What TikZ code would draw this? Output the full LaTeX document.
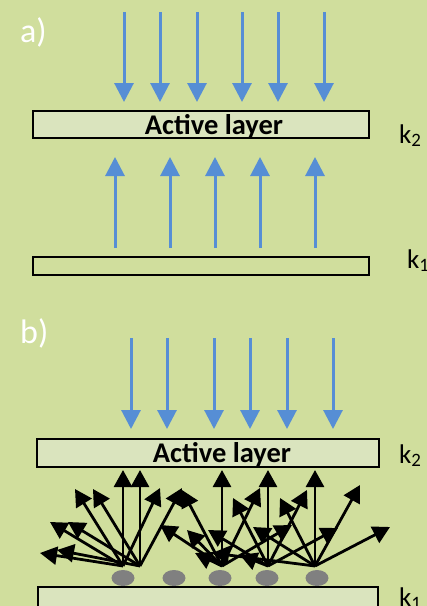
\documentclass[tikz,border=0pt]{standalone}
\usepackage{fontspec}
\setmainfont{Carlito}
\usetikzlibrary{arrows.meta}
\definecolor{bg}{RGB}{208,222,157}
\definecolor{layerfill}{RGB}{218,228,190}
\definecolor{beam}{RGB}{86,142,213}
\definecolor{grain}{RGB}{128,128,128}
\begin{document}
\begin{tikzpicture}[x=1pt,y=-1pt,
  layer/.style={draw=black,line width=2pt,inner sep=0pt},
  beamarrow/.style={draw=beam,line width=3pt,-{Triangle[width=19pt,length=19pt]}},
  ray/.style={draw=black,line width=2.8pt,-{Triangle[width=18pt,length=17pt]}},
  panel/.style={text=white,font=\fontsize{34}{34}\selectfont,anchor=base west,inner sep=0pt},
  klabel/.style={font=\fontsize{27}{27}\selectfont,anchor=base west,inner sep=0pt},
  title/.style={font=\bfseries\fontsize{28.5}{28.5}\selectfont,anchor=base,inner sep=0pt}]
\useasboundingbox (0,0) rectangle (427,606);
\clip (0,0) rectangle (427,606);
\fill[bg] (0,0) rectangle (427,606);

% ---------- a) ----------
\node[panel] (la) at (20,42) {a)};
\node[layer,fill=layerfill,minimum width=336pt,minimum height=27pt] (act1) at (201,124.5) {};
\node[title] (t1) at (214,134) {Active layer};
\node[layer,fill=bg,minimum width=336pt,minimum height=18pt] (sub1) at (201,266) {};
\node[klabel] (k2a) at (399,143) {k\textsubscript{2}};
\node[klabel] (k1a) at (407,268) {k\textsubscript{1}};

\foreach \x [count=\i] in {124,160,197,242,278,324}{
  \coordinate (ia\i) at (\x,12);
  \coordinate (ja\i) at (\x,102);
  \draw[beamarrow] (ia\i) -- (ja\i);
}
\foreach \x [count=\i] in {115,170,215,260,315}{
  \coordinate (ua\i) at (\x,248);
  \coordinate (va\i) at (\x,157);
  \draw[beamarrow] (ua\i) -- (va\i);
}

% ---------- b) ----------
\node[panel] (lb) at (20,343) {b)};
\node[layer,fill=layerfill,minimum width=342pt,minimum height=28pt] (act2) at (208,453) {};
\node[title] (t2) at (222,462) {Active layer};
\node[layer,fill=layerfill,minimum width=340pt,minimum height=26pt] (sub2) at (208,600) {};
\node[klabel] (k2b) at (399,463) {k\textsubscript{2}};
\node[klabel] (k1b) at (399,606) {k\textsubscript{1}};

\foreach \x [count=\i] in {131,167,214,250,287,333}{
  \coordinate (ib\i) at (\x,338);
  \coordinate (jb\i) at (\x,429);
  \draw[beamarrow] (ib\i) -- (jb\i);
}

% scattering particles
\foreach \x [count=\i] in {123,174,220,267,317}{
  \fill[grain] (\x,578) ellipse [x radius=11.5pt,y radius=8pt];
}

% scattered rays, one fan per particle
\coordinate (s1) at (123,566);
\coordinate (s2) at (140,566);
\coordinate (s3) at (222,566);
\coordinate (s4) at (268,566);
\coordinate (s5) at (315,566);
\foreach \x/\y [count=\i] in {123/470,75/489,50/522,40/553,160/488}{
  \coordinate (r1-\i) at (\x,\y);
  \draw[ray] (s1) -- (r1-\i);
}
\foreach \x/\y [count=\i] in {140/470,93/489,68/522,57/550,182/488}{
  \coordinate (r2-\i) at (\x,\y);
  \draw[ray] (s2) -- (r2-\i);
}
\foreach \x/\y [count=\i] in {222/470,182/490,160/525,187/530,195/553,260/488,292/525}{
  \coordinate (r3-\i) at (\x,\y);
  \draw[ray] (s3) -- (r3-\i);
}
\foreach \x/\y [count=\i] in {268/470,233/498,208/530,240/555,307/490,338/528}{
  \coordinate (r4-\i) at (\x,\y);
  \draw[ray] (s4) -- (r4-\i);
}
\foreach \x/\y [count=\i] in {315/470,280/498,253/527,360/485,390/527,212/553}{
  \coordinate (r5-\i) at (\x,\y);
  \draw[ray] (s5) -- (r5-\i);
}
\end{tikzpicture}
\end{document}
